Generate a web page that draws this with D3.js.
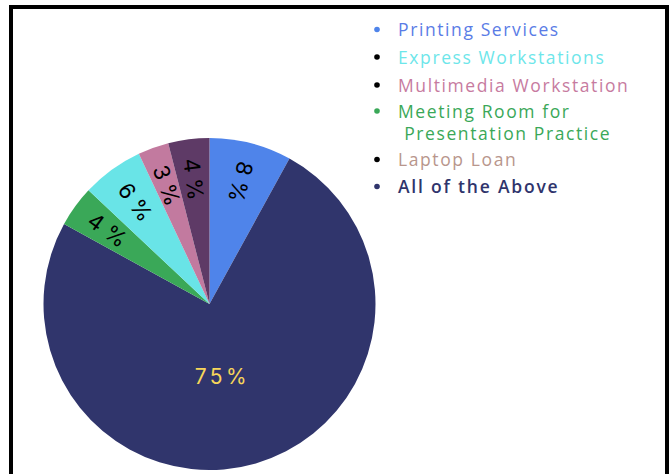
<!DOCTYPE html>
<html><head><meta charset="utf-8">
<script src="https://cdn.jsdelivr.net/npm/d3@7"></script>
<style>
html,body{margin:0;padding:0;background:#fff;}
svg{display:block;}
</style></head>
<body>
<svg id="chart" width="669" height="474"></svg>
<script>
// Data, in drawing order clockwise from 12 o'clock
const categories = ["Printing Services","All of the Above","Meeting Room for Presentation Practice","Express Workstations","Multimedia Workstation","Laptop Loan"];
const values = [8, 75, 4, 6, 3, 4];
const sliceColors = ["#4f84ea","#30356c","#3aa858","#69e4e7","#c27a9f","#5e3a66"];
// Legend order
const legendLabels = [["Printing Services"],["Express Workstations"],["Multimedia Workstation"],["Meeting Room for"," Presentation Practice"],["Laptop Loan"],["All of the Above"]];
const legendTextColors = ["#5a7ce6","#6de6ea","#c77b9f","#3aa858","#b8968c","#2f346c"];
const legendBulletColors = ["#4f84ea","#000000","#000000","#3aa858","#000000","#30356c"];

const svg = d3.select("#chart");
// frame
svg.append("rect").attr("x",11).attr("y",7).attr("width",656).attr("height",500)
  .attr("fill","none").attr("stroke","#000").attr("stroke-width",4);

const cx = 209.5, cy = 304, R = 166;
const g = svg.append("g").attr("transform",`translate(${cx},${cy})`);
const data = categories.map((c,i)=>({cat:c, value:values[i], color:sliceColors[i]}));
const pie = d3.pie().value(d=>d.value).sort(null);
const arcs = pie(data);
const arc = d3.arc().innerRadius(0).outerRadius(R);
g.selectAll("path").data(arcs).join("path").attr("d",arc).attr("fill",d=>d.data.color);

const labelArc = d3.arc().innerRadius(126).outerRadius(126);
const bigArc = d3.arc().innerRadius(75).outerRadius(75);
arcs.forEach(a=>{
  const mid = (a.startAngle+a.endAngle)/2*180/Math.PI;
  if (a.data.value > 50) {
    const [x,y] = bigArc.centroid(a);
    g.append("text").attr("x",x-8).attr("y",y).attr("text-anchor","middle").attr("dominant-baseline","central")
      .attr("font-family","Inter, 'Open Sans', sans-serif").attr("font-size",21).attr("letter-spacing","3.5px")
      .attr("fill","#f7d65a").text(a.data.value+"%");
  } else {
    const [x,y] = labelArc.centroid(a);
    g.append("text").attr("transform",`translate(${x},${y}) rotate(${mid+90})`)
      .attr("text-anchor","middle").attr("dominant-baseline","central")
      .attr("font-family","Inter, 'Open Sans', sans-serif").attr("font-size",22)
      .attr("fill","#000").text(a.data.value+" %");
  }
});

// legend
const lg = svg.append("g");
const rowY = [36, 63.5, 91.5, 117.5, 166, 193];
legendLabels.forEach((lines,i)=>{
  lg.append("circle").attr("cx",377).attr("cy",rowY[i]-6.5).attr("r",2.8).attr("fill",legendBulletColors[i]);
  lines.forEach((t,j)=>{
    lg.append("text").attr("x",398).attr("y",rowY[i]+j*22.5)
      .attr("font-family","'Open Sans', sans-serif").attr("font-size",17.5)
      .attr("letter-spacing", i===5 ? "1.8px" : "1.6px").attr("xml:space","preserve")
      .style("white-space","pre")
      .attr("font-weight", i===5 ? 600 : 400)
      .attr("fill",legendTextColors[i]).text(t);
  });
});
</script>
</body></html>
